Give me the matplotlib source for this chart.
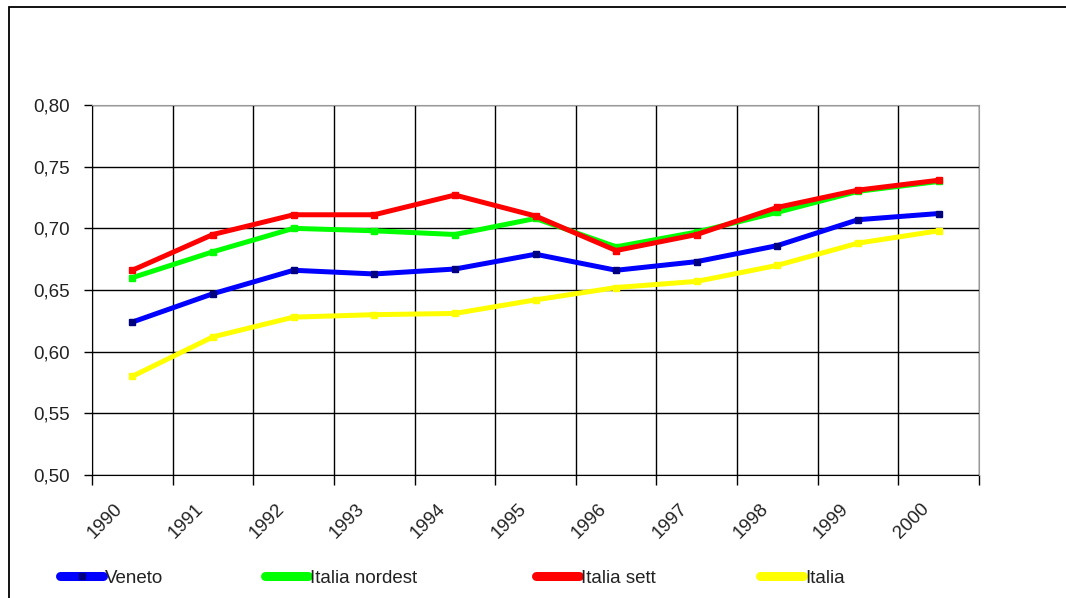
import numpy as np
import matplotlib
matplotlib.use("Agg")
import matplotlib.pyplot as plt
from matplotlib.patches import Rectangle
from matplotlib.lines import Line2D
from matplotlib.transforms import ScaledTranslation
from matplotlib.ticker import FuncFormatter

years = ["1990", "1991", "1992", "1993", "1994", "1995", "1996", "1997", "1998", "1999", "2000"]
veneto = [0.624, 0.647, 0.666, 0.663, 0.667, 0.679, 0.666, 0.673, 0.686, 0.707, 0.712]
nordest = [0.660, 0.681, 0.700, 0.698, 0.695, 0.708, 0.685, 0.697, 0.713, 0.730, 0.738]
sett = [0.666, 0.695, 0.711, 0.711, 0.727, 0.710, 0.682, 0.695, 0.717, 0.731, 0.739]
italia = [0.580, 0.612, 0.628, 0.630, 0.631, 0.642, 0.652, 0.657, 0.670, 0.688, 0.698]

plt.rcParams["font.family"] = ["Liberation Sans", "DejaVu Sans"]

W, H = 1066, 598
fig = plt.figure(figsize=(W / 100, H / 100), dpi=100)
ax = fig.add_axes([92 / W, 1 - 475 / H, (979 - 92) / W, (475 - 105) / H])

# outer chart frame (only top and left edges visible)
fig.add_artist(Rectangle((9 / W, -0.2), 1.2, 1.2 - 7 / H, transform=fig.transFigure,
                         fill=False, ec="black", lw=1.3))

x = np.arange(len(years)) + 0.5
series = [
    ("Veneto", veneto, "#0000ff", "#000080", 60),
    ("Italia nordest", nordest, "#00ff00", "#00ff00", 265),
    ("Italia sett", sett, "#ff0000", "#ff0000", 536),
    ("Italia", italia, "#ffff00", "#ffff00", 760),
]
for name, vals, c, mc, lx in series:
    ax.plot(x, vals, color=c, lw=3.6, marker="s", ms=5, mfc=mc, mec=mc,
            solid_capstyle="round", zorder=3)
    h = Line2D([], [], color=c, lw=6.5, solid_capstyle="round",
               marker="s" if mc != c else None, ms=5, mfc=mc, mec=mc)
    fig.legend(handles=[h], labels=[name], loc="center left",
               bbox_to_anchor=(lx / W, 1 - 578 / H), frameon=False, fontsize=13.5,
               handlelength=2.3, handletextpad=0.12, borderaxespad=0, borderpad=0,
               labelcolor="#222222")

ax.set_xlim(0, len(years))
ax.set_ylim(0.50, 0.80)
ax.set_yticks(np.arange(0.50, 0.801, 0.05))
ax.yaxis.set_major_formatter(FuncFormatter(lambda v, p: f"{v:.2f}".replace(".", ",")))
ax.set_xticks(np.arange(0, len(years) + 1))
ax.set_xticklabels([])
ax.set_xticks(x, minor=True)
ax.set_xticklabels(years, minor=True, rotation=45, ha="right", va="top")
ax.tick_params(axis="x", which="minor", length=0, pad=18, labelsize=13.5, labelcolor="#222222")
ax.tick_params(axis="x", which="major", direction="out", length=7, width=1)
ax.tick_params(axis="y", direction="out", length=6, width=1, labelsize=13.5,
               labelcolor="#222222", pad=10)
shift = ScaledTranslation(-6 / 100, 0, fig.dpi_scale_trans)
for lab in ax.get_xticklabels(minor=True):
    lab.set_transform(lab.get_transform() + shift)
ax.grid(True, which="major", color="black", lw=1)
for s in ["left", "bottom"]:
    ax.spines[s].set_color("black")
for s in ["top", "right"]:
    ax.spines[s].set_color("#999999")
    ax.spines[s].set_zorder(4)

fig.savefig("out.png", dpi=100, facecolor="white")
